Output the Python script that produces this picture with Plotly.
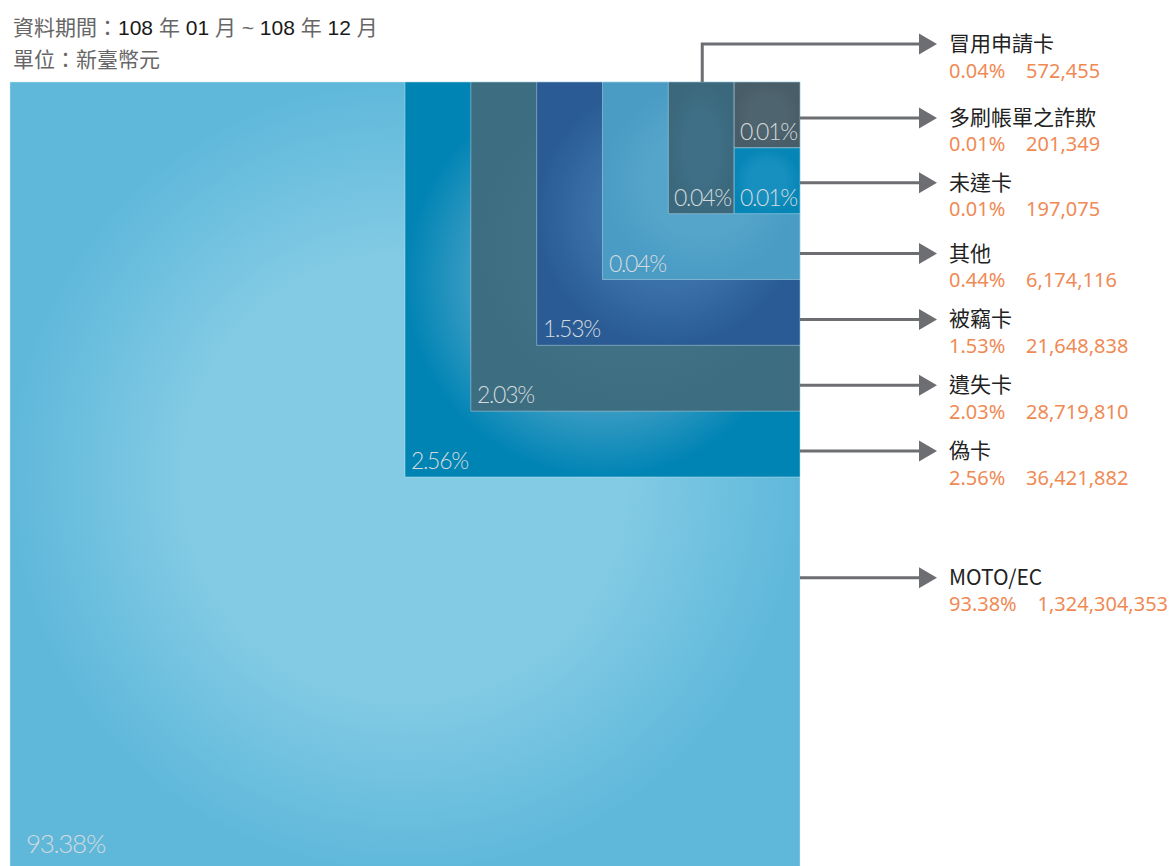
import plotly.graph_objects as go

# ---------------- data ----------------
categories = ["冒用申請卡", "多刷帳單之詐欺", "未達卡", "其他", "被竊卡", "遺失卡", "偽卡", "MOTO/EC"]
shares = ["0.04%", "0.01%", "0.01%", "0.44%", "1.53%", "2.03%", "2.56%", "93.38%"]
amounts = [572455, 201349, 197075, 6174116, 21648838, 28719810, 36421882, 1324304353]
box_labels = ["0.04%", "0.01%", "0.01%", "0.04%", "1.53%", "2.03%", "2.56%", "93.38%"]
period_text = ["資料期間：", "108", " 年 ", "01", " 月 ~ ", "108", " 年 ", "12", " 月"]
unit_text = "單位：新臺幣元"

# ---------------- styles ----------------
box_colors = {
    "冒用申請卡": ("#3e6f86", "#3b687c"),
    "多刷帳單之詐欺": ("#4e646e", "#485d67"),
    "未達卡": ("#1790bf", "#0686b6"),
    "其他": ("#55a4ca", "#4a9cc5"),
    "被竊卡": ("#3a71a8", "#2a5b95"),
    "遺失卡": ("#407184", "#3d6d80"),
    "偽卡": ("#4aa3c8", "#0084b4"),
    "MOTO/EC": ("#83cbe5", "#5fb8da"),
}
PAGE_OFF = 8             # default body margin of the html page
W, H = 1175, 866
R, T = 800, 82           # right edge / top edge of the nested block
S = 395 / 6              # nesting step
ARROW_C = "#6d6e71"
ORANGE = "#f08a55"
LABEL_C = "#d3dadd"
NBSP = "\u00a0"

def box_geom(i):
    name = categories[i]
    if name == "MOTO/EC":
        return (R - 12 * S, R, T, T + 12 * S)
    if name == "冒用申請卡":
        return (R - 2 * S, R - S, T, T + 2 * S)
    if name == "多刷帳單之詐欺":
        return (R - S, R, T, T + S)
    if name == "未達卡":
        return (R - S, R, T + S, T + 2 * S)
    level = {"其他": 3, "被竊卡": 4, "遺失卡": 5, "偽卡": 6}[name]
    return (R - level * S, R, T, T + level * S)

def arrow_y(i):
    name = categories[i]
    if name == "MOTO/EC":
        return T + 7.5 * S + 2
    if name == "冒用申請卡":
        return T - 38
    if name == "多刷帳單之詐欺":
        return T + 0.5 * S + 3
    if name == "未達卡":
        return T + 1.5 * S + 2
    level = {"其他": 3, "被竊卡": 4, "遺失卡": 5, "偽卡": 6}[name]
    return T + (level - 0.5) * S + 7

fig = go.Figure()
draw_order = ["MOTO/EC", "偽卡", "遺失卡", "被竊卡", "其他", "冒用申請卡", "多刷帳單之詐欺", "未達卡"]
annotations = []
for name in draw_order:
    i = categories.index(name)
    x0, x1, y0, y1 = box_geom(i)
    c_in, c_out = box_colors[name]
    fig.add_trace(go.Scatter(
        x=[x0, x1, x1, x0, x0], y=[y0, y0, y1, y1, y0],
        mode="lines", fill="toself",
        line=dict(color="rgba(200,230,240,0.45)", width=1),
        fillgradient=dict(type="radial", colorscale=[[0, c_in], [0.55, c_in], [1, c_out]]),
        hoverinfo="skip", showlegend=False,
    ))
    big = name == "MOTO/EC"
    pad = 14 if big else 4
    ly = (min(y1, H) - 23) if big else y1 - 17
    annotations.append(dict(
        x=x0 + pad, y=ly, xref="x", yref="y", xanchor="left", yanchor="middle",
        text=f'<span style="letter-spacing:-1.3px">{box_labels[i]}</span>', showarrow=False,
        font=dict(family="Lato", size=26 if big else 23, color=LABEL_C, weight=300),
    ))

for i, name in enumerate(categories):
    ay = arrow_y(i)
    x0, x1, y0, y1 = box_geom(i)
    if name == "冒用申請卡":
        xs = [(x0 + x1) / 2 + 1, (x0 + x1) / 2 + 1, 920]
        ys = [T, ay, ay]
    else:
        xs = [R, 920]
        ys = [ay, ay]
    fig.add_trace(go.Scatter(x=xs, y=ys, mode="lines", line=dict(color=ARROW_C, width=3),
                             hoverinfo="skip", showlegend=False))
    fig.add_trace(go.Scatter(x=[919, 937, 919, 919], y=[ay - 10.5, ay, ay + 10.5, ay - 10.5],
                             mode="lines", fill="toself", fillcolor=ARROW_C,
                             line=dict(color=ARROW_C, width=0), hoverinfo="skip", showlegend=False))
    annotations.append(dict(
        x=947, y=ay - 2, xref="x", yref="y", xanchor="left", yanchor="middle",
        text=name, showarrow=False,
        font=dict(family="Noto Sans CJK TC", size=21, color="#222222"),
    ))
    annotations.append(dict(
        x=947, y=ay + 26, xref="x", yref="y", xanchor="left", yanchor="middle",
        text=shares[i] + NBSP * 4 + f"{amounts[i]:,}", showarrow=False,
        font=dict(family="Noto Sans", size=20, color=ORANGE),
    ))

parts = []
for p in period_text:
    col = "#1a1a1a" if any(ch.isdigit() for ch in p) else "#666666"
    parts.append(f'<span style="color:{col}">{p.replace(" ", NBSP)}</span>')
annotations.append(dict(x=11, y=27, xref="x", yref="y", xanchor="left", yanchor="middle",
                        text="".join(parts), showarrow=False,
                        font=dict(family="Liberation Sans, Noto Sans CJK TC", size=21, color="#666666")))
annotations.append(dict(x=11, y=59, xref="x", yref="y", xanchor="left", yanchor="middle",
                        text=unit_text, showarrow=False,
                        font=dict(family="Liberation Sans, Noto Sans CJK TC", size=21, color="#666666")))

fig.update_layout(
    width=W - PAGE_OFF, height=H - PAGE_OFF, margin=dict(l=0, r=0, t=0, b=0),
    paper_bgcolor="white", plot_bgcolor="white",
    xaxis=dict(range=[PAGE_OFF, W], visible=False, fixedrange=True),
    yaxis=dict(range=[H, PAGE_OFF], visible=False, fixedrange=True),
    annotations=annotations, showlegend=False,
)
fig.write_html("out.html")
